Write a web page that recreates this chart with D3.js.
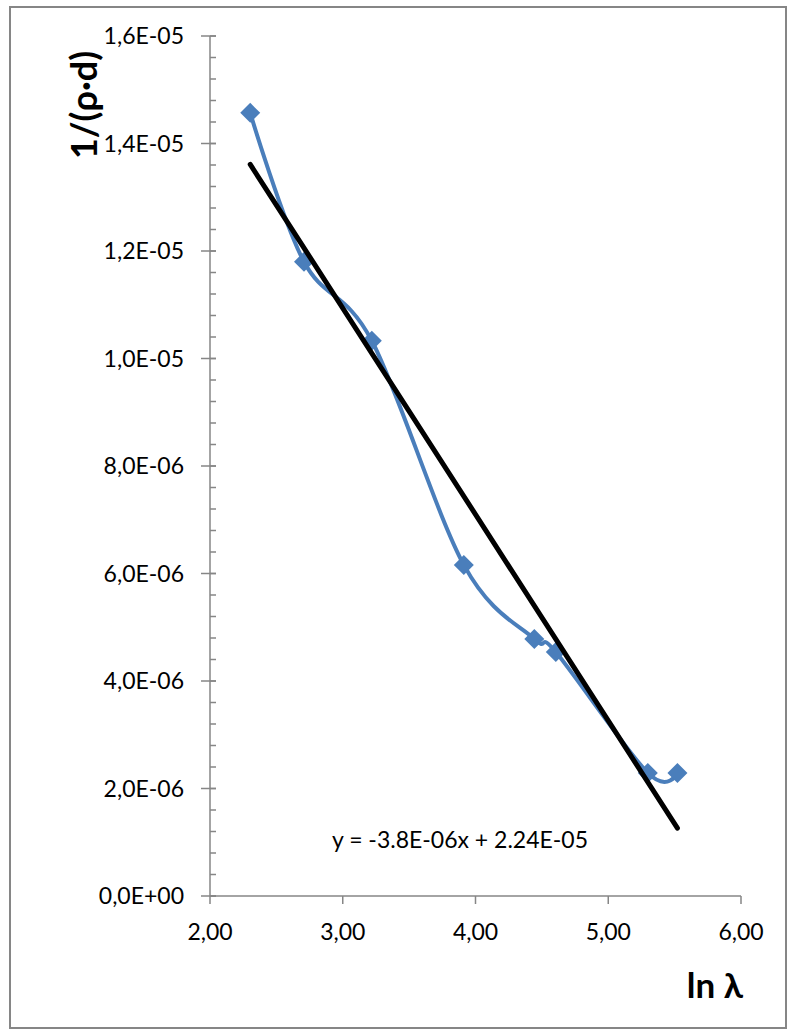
<!DOCTYPE html>
<html><head><meta charset="utf-8">
<script src="https://cdn.jsdelivr.net/npm/d3@7"></script>
<style>body{margin:0;background:#fff}svg{display:block}</style>
</head><body>
<svg id="c" width="795" height="1034"></svg>
<script>
const lnLambda = [2.303, 2.708, 3.219, 3.912, 4.443, 4.605, 5.298, 5.521];
const invRhoD = [14.57e-6, 11.80e-6, 10.33e-6, 6.16e-6, 4.78e-6, 4.54e-6, 2.29e-6, 2.29e-6];
const xTicks = [2, 3, 4, 5, 6];
const yTicks = [0, 2e-6, 4e-6, 6e-6, 8e-6, 10e-6, 12e-6, 14e-6, 16e-6];
const yTickLabels = ["0,0E+00","2,0E-06","4,0E-06","6,0E-06","8,0E-06","1,0E-05","1,2E-05","1,4E-05","1,6E-05"];
const xTickLabels = ["2,00","3,00","4,00","5,00","6,00"];
const equationText = "y = -3.8E-06x + 2.24E-05";

const svg = d3.select("#c");
const font = "Lato, 'Open Sans', sans-serif";
svg.append("rect").attr("x",10).attr("y",7).attr("width",776).attr("height",1021)
  .attr("fill","#fff").attr("stroke","#868686").attr("stroke-width",2);

const x = d3.scaleLinear().domain([2,6]).range([210,741]);
const y = d3.scaleLinear().domain([0,16e-6]).range([896,36]);
const axisColor = "#868686";

// y axis
const ya = svg.append("g");
ya.append("line").attr("x1",210).attr("x2",210).attr("y1",y(16e-6)).attr("y2",y(0))
  .attr("stroke",axisColor).attr("stroke-width",1.5);
const minor = d3.range(0,16e-6+1e-12,4e-7);
ya.selectAll(".mn").data(minor).join("line")
  .attr("x1",210).attr("x2",216).attr("y1",d=>y(d)).attr("y2",d=>y(d))
  .attr("stroke",axisColor).attr("stroke-width",1.5);
ya.selectAll(".mj").data(yTicks).join("line")
  .attr("x1",201).attr("x2",216).attr("y1",d=>y(d)).attr("y2",d=>y(d))
  .attr("stroke",axisColor).attr("stroke-width",1.5);
ya.selectAll("text").data(yTicks).join("text")
  .attr("x",184).attr("y",d=>y(d)+8).attr("text-anchor","end")
  .attr("font-family",font).attr("font-size",23).attr("fill","#000")
  .text((d,i)=>yTickLabels[i]);

// x axis
const xa = svg.append("g");
xa.append("line").attr("x1",x(2)).attr("x2",x(6)).attr("y1",896).attr("y2",896)
  .attr("stroke",axisColor).attr("stroke-width",1.5);
xa.selectAll("line.t").data(xTicks).join("line").attr("class","t")
  .attr("x1",d=>x(d)).attr("x2",d=>x(d)).attr("y1",896).attr("y2",904)
  .attr("stroke",axisColor).attr("stroke-width",1.5);
xa.selectAll("text").data(xTicks).join("text")
  .attr("x",d=>x(d)).attr("y",940).attr("text-anchor","middle")
  .attr("font-family",font).attr("font-size",23).attr("fill","#000")
  .text((d,i)=>xTickLabels[i]);

// titles
svg.append("text").attr("transform","translate(97,105) rotate(-90)")
  .attr("text-anchor","middle").attr("font-family",font).attr("font-weight","bold")
  .attr("font-size",36).text("1/(ρ·d)");
svg.append("text").attr("x",743).attr("y",998).attr("text-anchor","end")
  .attr("font-family",font).attr("font-weight","bold").attr("font-size",35).text("ln λ");

// data series
const pts = lnLambda.map((v,i)=>[v,invRhoD[i]]);
const line = d3.line().x(d=>x(d[0])).y(d=>y(d[1])).curve(d3.curveCardinal.tension(0));
svg.append("path").attr("d",line(pts)).attr("fill","none")
  .attr("stroke","#4a7ebb").attr("stroke-width",4);
svg.selectAll("path.m").data(pts).join("path").attr("class","m")
  .attr("d",d3.symbol(d3.symbolSquare,200)())
  .attr("transform",d=>`translate(${x(d[0])},${y(d[1])}) rotate(45)`)
  .attr("fill","#4a7ebb");

// trendline (least squares)
const mx = d3.mean(lnLambda), my = d3.mean(invRhoD);
const slope = d3.sum(lnLambda,(v,i)=>(v-mx)*(invRhoD[i]-my))/d3.sum(lnLambda,v=>(v-mx)**2);
const icpt = my - slope*mx;
const x0 = d3.min(lnLambda), x1 = d3.max(lnLambda);
svg.append("line").attr("x1",x(x0)).attr("y1",y(slope*x0+icpt))
  .attr("x2",x(x1)).attr("y2",y(slope*x1+icpt))
  .attr("stroke","#000").attr("stroke-width",5).attr("stroke-linecap","round");

svg.append("text").attr("x",460).attr("y",848).attr("text-anchor","middle")
  .attr("font-family",font).attr("font-size",23).text(equationText);
</script>
</body></html>
